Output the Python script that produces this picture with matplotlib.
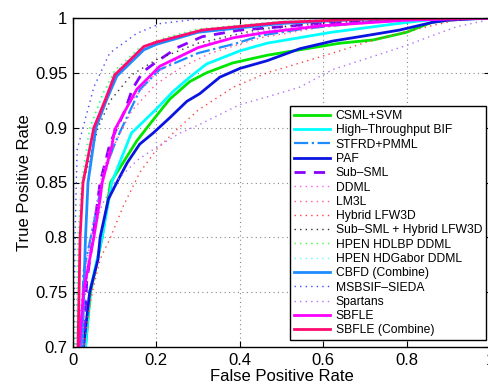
import matplotlib.pyplot as plt

plt.rcParams['font.family'] = ['Liberation Sans', 'DejaVu Sans']

# ---------- ROC points ----------
fpr_csml = [0.0, 0.03, 0.042, 0.07, 0.09, 0.12, 0.153, 0.192, 0.232, 0.28, 0.32, 0.383, 0.465, 0.544, 0.64, 0.72, 0.8, 0.86, 0.92, 1.0]
tpr_csml = [0.62, 0.70, 0.75, 0.80, 0.85, 0.868, 0.888, 0.907, 0.926, 0.942, 0.95, 0.959, 0.966, 0.971, 0.977, 0.98, 0.987, 0.996, 0.999, 1.0]

fpr_bif = [0.0, 0.03, 0.04, 0.07, 0.093, 0.14, 0.2, 0.24, 0.28, 0.32, 0.4, 0.465, 0.62, 0.78, 0.87, 1.0]
tpr_bif = [0.62, 0.70, 0.75, 0.80, 0.85, 0.895, 0.917, 0.933, 0.946, 0.958, 0.97, 0.977, 0.987, 0.995, 0.999, 1.0]

fpr_stfrd = [0.0, 0.02, 0.025, 0.053, 0.075, 0.1, 0.115, 0.13, 0.161, 0.208, 0.3, 0.393, 0.45, 0.55, 0.7, 0.85, 1.0]
tpr_stfrd = [0.62, 0.70, 0.768, 0.819, 0.86, 0.885, 0.898, 0.91, 0.935, 0.953, 0.968, 0.977, 0.984, 0.99, 0.996, 0.999, 1.0]

fpr_paf = [0.0, 0.025, 0.04, 0.06, 0.065, 0.085, 0.105, 0.13, 0.16, 0.192, 0.232, 0.273, 0.304, 0.352, 0.4, 0.465, 0.544, 0.623, 0.704, 0.783, 0.862, 0.9, 1.0]
tpr_paf = [0.62, 0.70, 0.75, 0.78, 0.80, 0.835, 0.85, 0.868, 0.885, 0.895, 0.909, 0.924, 0.931, 0.946, 0.954, 0.961, 0.972, 0.979, 0.984, 0.989, 0.996, 0.998, 1.0]

fpr_subsml = [0.0, 0.025, 0.033, 0.048, 0.065, 0.089, 0.125, 0.142, 0.168, 0.2, 0.25, 0.31, 0.4, 0.6, 0.8, 1.0]
tpr_subsml = [0.62, 0.70, 0.76, 0.80, 0.85, 0.886, 0.916, 0.935, 0.951, 0.96, 0.973, 0.983, 0.989, 0.995, 0.999, 1.0]

fpr_ddml = [0.0, 0.012, 0.022, 0.042, 0.065, 0.09, 0.13, 0.2, 0.26, 0.33, 0.45, 0.6, 0.8, 1.0]
tpr_ddml = [0.62, 0.70, 0.75, 0.80, 0.85, 0.885, 0.92, 0.95, 0.965, 0.978, 0.988, 0.995, 0.999, 1.0]

fpr_lm3l = [0.0, 0.018, 0.028, 0.048, 0.07, 0.1, 0.14, 0.2, 0.26, 0.33, 0.45, 0.6, 0.8, 1.0]
tpr_lm3l = [0.62, 0.70, 0.75, 0.80, 0.85, 0.885, 0.915, 0.94, 0.955, 0.968, 0.982, 0.992, 0.998, 1.0]

fpr_hybrid = [0.0, 0.029, 0.036, 0.048, 0.065, 0.09, 0.12, 0.16, 0.2, 0.24, 0.3, 0.385, 0.465, 0.544, 0.623, 0.704, 0.783, 0.86, 0.92, 1.0]
tpr_hybrid = [0.62, 0.707, 0.728, 0.753, 0.78, 0.80, 0.828, 0.859, 0.88, 0.895, 0.916, 0.937, 0.95, 0.959, 0.968, 0.978, 0.986, 0.993, 0.998, 1.0]

fpr_subhyb = [0.0, 0.008, 0.015, 0.025, 0.06, 0.09, 0.14, 0.2, 0.3, 0.45, 0.6, 1.0]
tpr_subhyb = [0.62, 0.70, 0.80, 0.85, 0.90, 0.925, 0.948, 0.962, 0.977, 0.99, 0.996, 1.0]

fpr_hdlbp = [0.0, 0.006, 0.012, 0.02, 0.04, 0.07, 0.1, 0.16, 0.22, 0.3, 0.5, 1.0]
tpr_hdlbp = [0.62, 0.70, 0.80, 0.85, 0.90, 0.93, 0.952, 0.973, 0.982, 0.99, 0.997, 1.0]

fpr_hdgabor = [0.0, 0.008, 0.014, 0.022, 0.043, 0.073, 0.1, 0.16, 0.22, 0.3, 0.5, 1.0]
tpr_hdgabor = [0.62, 0.70, 0.80, 0.85, 0.90, 0.93, 0.95, 0.972, 0.981, 0.989, 0.997, 1.0]

fpr_cbfd = [0.0, 0.022, 0.03, 0.036, 0.055, 0.08, 0.105, 0.17, 0.2, 0.3, 0.5, 0.7, 1.0]
tpr_cbfd = [0.62, 0.70, 0.80, 0.85, 0.90, 0.925, 0.947, 0.971, 0.976, 0.987, 0.995, 0.999, 1.0]

fpr_msbsif = [0.0, 0.002, 0.005, 0.008, 0.01, 0.05, 0.088, 0.153, 0.21, 0.3, 1.0]
tpr_msbsif = [0.62, 0.70, 0.80, 0.85, 0.88, 0.937, 0.968, 0.986, 0.995, 0.999, 1.0]

fpr_spartans = [0.0, 0.022, 0.03, 0.045, 0.07, 0.1, 0.153, 0.2, 0.256, 0.304, 0.352, 0.4, 0.465, 0.544, 0.623, 0.72, 0.8, 0.855, 0.92, 0.98, 1.0]
tpr_spartans = [0.62, 0.70, 0.75, 0.80, 0.83, 0.85, 0.87, 0.882, 0.895, 0.903, 0.912, 0.921, 0.928, 0.937, 0.953, 0.965, 0.975, 0.983, 0.992, 0.997, 1.0]

fpr_sbfle = [0.0, 0.015, 0.025, 0.05, 0.065, 0.07, 0.093, 0.1, 0.153, 0.208, 0.3, 0.385, 0.465, 0.6, 0.8, 1.0]
tpr_sbfle = [0.62, 0.70, 0.75, 0.80, 0.835, 0.85, 0.883, 0.898, 0.935, 0.956, 0.973, 0.982, 0.987, 0.993, 0.998, 1.0]

fpr_sbfle_c = [0.0, 0.012, 0.017, 0.024, 0.05, 0.077, 0.1, 0.17, 0.2, 0.31, 0.5, 0.7, 1.0]
tpr_sbfle_c = [0.62, 0.70, 0.80, 0.85, 0.90, 0.925, 0.948, 0.974, 0.978, 0.989, 0.996, 0.999, 1.0]

labels = [
    "CSML+SVM", "High\u2013Throughput BIF", "STFRD+PMML", "PAF", "Sub\u2013SML",
    "DDML", "LM3L", "Hybrid LFW3D", "Sub\u2013SML + Hybrid LFW3D",
    "HPEN HDLBP DDML", "HPEN HDGabor DDML", "CBFD (Combine)", "MSBSIF\u2013SIEDA",
    "Spartans", "SBFLE", "SBFLE (Combine)",
]

DOT = (0, (1, 3))

fig = plt.figure(figsize=(4.89, 3.88), dpi=100)
ax = fig.add_axes([73 / 489, 41 / 388, 417 / 489, 329 / 388])

curves = [
    (fpr_csml, tpr_csml, "#00e600", "-", 2.0),
    (fpr_bif, tpr_bif, "#00ffff", "-", 2.0),
    (fpr_stfrd, tpr_stfrd, "#1e8cff", "-.", 1.6),
    (fpr_paf, tpr_paf, "#0a14e0", "-", 2.0),
    (fpr_subsml, tpr_subsml, "#8a00ff", (0, (4, 3)), 2.0),
    (fpr_ddml, tpr_ddml, "#ff55ff", DOT, 1.0),
    (fpr_lm3l, tpr_lm3l, "#ff5599", DOT, 1.0),
    (fpr_hybrid, tpr_hybrid, "#ff4040", DOT, 1.0),
    (fpr_subhyb, tpr_subhyb, "#333333", DOT, 1.0),
    (fpr_hdlbp, tpr_hdlbp, "#33ff33", DOT, 1.0),
    (fpr_hdgabor, tpr_hdgabor, "#55ffff", DOT, 1.0),
    (fpr_cbfd, tpr_cbfd, "#1e8cff", "-", 2.0),
    (fpr_msbsif, tpr_msbsif, "#4646ff", DOT, 1.0),
    (fpr_spartans, tpr_spartans, "#b070ff", DOT, 1.0),
    (fpr_sbfle, tpr_sbfle, "#ff00ff", "-", 2.0),
    (fpr_sbfle_c, tpr_sbfle_c, "#ff0a6e", "-", 2.0),
]

for (x, y, c, ls, lw), name in zip(curves, labels):
    ax.plot(x, y, color=c, linestyle=ls, linewidth=lw, label=name)

ax.set_xlim(0, 1)
ax.set_ylim(0.7, 1)
ax.set_xticks([0, 0.2, 0.4, 0.6, 0.8, 1])
ax.set_xticklabels(["0", "0.2", "0.4", "0.6", "0.8", "1"])
ax.set_yticks([0.7, 0.75, 0.8, 0.85, 0.9, 0.95, 1])
ax.set_yticklabels(["0.7", "0.75", "0.8", "0.85", "0.9", "0.95", "1"])
ax.tick_params(direction="in", top=True, right=True, length=4, labelsize=12, pad=4)
ax.grid(True, linestyle=(0, (1, 3)), color="#888888", linewidth=0.8)
for s in ax.spines.values():
    s.set_linewidth(1.0)

ax.set_xlabel("False Positive Rate", fontsize=12, labelpad=1)
ax.set_ylabel("True Positive Rate", fontsize=12, labelpad=2)

leg = ax.legend(loc="lower right", bbox_to_anchor=(0.99, 0.021), fontsize=8.7,
                frameon=True, fancybox=False, framealpha=1, edgecolor="black",
                handlelength=3.0, handletextpad=0.45, labelspacing=0.19,
                borderpad=0.3, borderaxespad=0)
leg.get_frame().set_linewidth(1.0)

fig.savefig("out.png", dpi=100)
